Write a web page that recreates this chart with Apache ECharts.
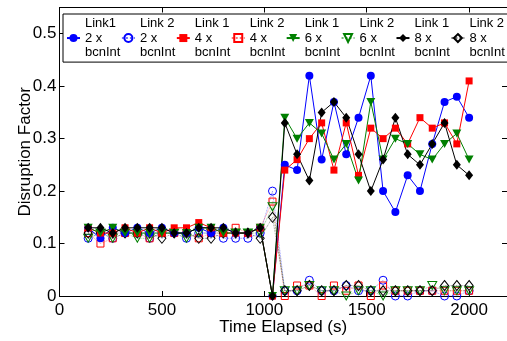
<!DOCTYPE html>
<html>
<head>
<meta charset="utf-8">
<script src="https://cdn.jsdelivr.net/npm/echarts@6/dist/echarts.min.js"></script>
<style>
html,body{margin:0;padding:0;background:#fff;}
#c{width:507px;height:341px;}
</style>
</head>
<body>
<div id="c"></div>
<script>
// ---- data ----
var times = [140, 200, 260, 320, 380, 440, 500, 560, 620, 680, 740, 800, 860, 920, 980, 1040,
             1100, 1160, 1220, 1280, 1340, 1400, 1460, 1520, 1580, 1640, 1700, 1760, 1820, 1880, 1940, 2000];

var link1_2x = [0.13, 0.11, 0.13, 0.12, 0.13, 0.12, 0.13, 0.12, 0.12, 0.13, 0.12, 0.13, 0.12, 0.12, 0.13, 0.00,
                0.25, 0.24, 0.42, 0.26, 0.37, 0.27, 0.34, 0.42, 0.20, 0.16, 0.23, 0.20, 0.29, 0.37, 0.38, 0.34];
var link2_2x = [0.11, 0.12, 0.11, 0.12, 0.12, 0.11, 0.12, 0.12, 0.11, 0.12, 0.12, 0.11, 0.11, 0.11, 0.12, 0.20,
                0.01, 0.01, 0.03, 0.01, 0.01, 0.02, 0.01, 0.01, 0.03, 0.00, 0.00, 0.01, 0.01, 0.00, 0.00, 0.01];
var link1_4x = [0.13, 0.12, 0.12, 0.13, 0.12, 0.13, 0.12, 0.13, 0.13, 0.14, 0.13, 0.12, 0.12, 0.12, 0.13, 0.00,
                0.24, 0.26, 0.30, 0.33, 0.24, 0.33, 0.23, 0.32, 0.30, 0.32, 0.29, 0.34, 0.32, 0.33, 0.29, 0.41];
var link2_4x = [0.12, 0.10, 0.11, 0.12, 0.12, 0.11, 0.12, 0.12, 0.12, 0.11, 0.12, 0.12, 0.13, 0.12, 0.13, 0.18,
                0.00, 0.02, 0.02, 0.00, 0.02, 0.01, 0.02, 0.00, 0.02, 0.01, 0.01, 0.01, 0.01, 0.01, 0.01, 0.01];
var link1_6x = [0.13, 0.12, 0.13, 0.12, 0.12, 0.12, 0.12, 0.12, 0.12, 0.13, 0.13, 0.12, 0.12, 0.12, 0.13, 0.00,
                0.34, 0.30, 0.33, 0.31, 0.26, 0.29, 0.22, 0.37, 0.26, 0.30, 0.29, 0.27, 0.26, 0.29, 0.31, 0.26];
var link2_6x = [0.11, 0.12, 0.11, 0.12, 0.11, 0.11, 0.12, 0.12, 0.11, 0.12, 0.12, 0.12, 0.12, 0.12, 0.12, 0.17,
                0.01, 0.01, 0.02, 0.01, 0.01, 0.00, 0.01, 0.01, 0.00, 0.01, 0.01, 0.01, 0.02, 0.01, 0.01, 0.01];
var link1_8x = [0.13, 0.13, 0.12, 0.13, 0.13, 0.13, 0.13, 0.12, 0.12, 0.13, 0.13, 0.13, 0.12, 0.12, 0.13, 0.00,
                0.33, 0.27, 0.22, 0.35, 0.37, 0.34, 0.27, 0.20, 0.26, 0.34, 0.27, 0.25, 0.29, 0.33, 0.25, 0.23];
var link2_8x = [0.12, 0.12, 0.12, 0.12, 0.12, 0.12, 0.11, 0.12, 0.12, 0.11, 0.11, 0.12, 0.12, 0.12, 0.11, 0.15,
                0.01, 0.01, 0.02, 0.01, 0.01, 0.02, 0.02, 0.01, 0.01, 0.01, 0.01, 0.01, 0.01, 0.02, 0.02, 0.02];

var legendNames = ['Link1\n2 x\nbcnInt', 'Link 2\n2 x\nbcnInt', 'Link 1\n4 x\nbcnInt', 'Link 2\n4 x\nbcnInt',
                   'Link 1\n6 x\nbcnInt', 'Link 2\n6 x\nbcnInt', 'Link 1\n8 x\nbcnInt', 'Link 2\n8 x\nbcnInt'];
var xTicks = [0, 500, 1000, 1500, 2000];
var yTicks = [0, 0.1, 0.2, 0.3, 0.4, 0.5];

// ---- build ----
function pts(vals){ return times.map(function(t,i){ return [t, vals[i]]; }); }
var FONT = 'Liberation Sans, Arial, Helvetica, sans-serif';
var TRI = 'path://M0,0L20,0L10,17Z';

function solid(name, vals, color, symbol, size){
  return {
    name: name, type: 'line', data: pts(vals), z: 3,
    symbol: symbol, symbolSize: size,
    lineStyle: {color: color, width: 1},
    itemStyle: {color: color},
    emphasis: {disabled: true}
  };
}
function open(name, vals, color, symbol, size){
  return {
    name: name, type: 'line', data: pts(vals), z: 2,
    symbol: symbol, symbolSize: size,
    lineStyle: {color: color, width: 0.8, type: 'dotted', opacity: 0.55},
    itemStyle: {color: 'rgba(255,255,255,0)', borderColor: color, borderWidth: 1},
    emphasis: {disabled: true}
  };
}

var series = [
  solid(legendNames[0], link1_2x, '#0000ff', 'circle', 8),
  open(legendNames[1], link2_2x, '#0000ff', 'circle', 8),
  solid(legendNames[2], link1_4x, '#ff0000', 'rect', 7),
  open(legendNames[3], link2_4x, '#ff0000', 'rect', 7),
  solid(legendNames[4], link1_6x, '#008000', TRI, [9, 8]),
  open(legendNames[5], link2_6x, '#008000', TRI, [9, 8]),
  solid(legendNames[6], link1_8x, '#000000', 'diamond', [8, 10]),
  open(legendNames[7], link2_8x, '#000000', 'diamond', [8, 10])
];

function plain(v){ return String(Math.round(v * 1000) / 1000); }

var axisCommonX = {
  type: 'value', min: xTicks[0], max: 2185, interval: xTicks[1] - xTicks[0],
  splitLine: {show: false},
  axisLine: {show: true, onZero: false, lineStyle: {color: '#000', width: 1}},
  axisTick: {show: true, inside: true, length: 5, lineStyle: {color: '#000'}}
};
var axisCommonY = {
  type: 'value', min: yTicks[0], max: 0.55, interval: yTicks[1] - yTicks[0],
  splitLine: {show: false},
  axisLine: {show: true, onZero: false, lineStyle: {color: '#000', width: 1}},
  axisTick: {show: true, inside: true, length: 5, lineStyle: {color: '#000'}}
};

var option = {
  animation: false,
  backgroundColor: '#fff',
  grid: {left: 59.5, right: 0, top: 7.5, bottom: 39, containLabel: false},
  legend: {
    data: legendNames,
    left: 63, top: 14, width: 480,
    orient: 'horizontal',
    padding: [2, 3, 2, 3],
    itemGap: 0.5,
    itemWidth: 13, itemHeight: 10,
    borderColor: '#000', borderWidth: 1, backgroundColor: '#fff',
    textStyle: {fontFamily: FONT, fontSize: 13, lineHeight: 14.7, color: '#000', align: 'left'},
    selectedMode: false
  },
  xAxis: [
    Object.assign({}, axisCommonX, {
      position: 'bottom',
      name: 'Time Elapsed (s)', nameLocation: 'middle', nameGap: 23, nameMoveOverlap: false,
      nameTextStyle: {fontFamily: FONT, fontSize: 17, color: '#000'},
      axisLabel: {fontFamily: FONT, fontSize: 17, color: '#000', margin: 6, showMaxLabel: false, formatter: plain}
    }),
    Object.assign({}, axisCommonX, {position: 'top', axisLabel: {show: false}})
  ],
  yAxis: [
    Object.assign({}, axisCommonY, {
      position: 'left',
      name: 'Disruption Factor', nameLocation: 'middle', nameGap: 26, nameMoveOverlap: false,
      nameTextStyle: {fontFamily: FONT, fontSize: 17, color: '#000'},
      axisLabel: {fontFamily: FONT, fontSize: 17, color: '#000', margin: 3, showMaxLabel: false, formatter: plain}
    }),
    Object.assign({}, axisCommonY, {position: 'right', axisLabel: {show: false}})
  ],
  series: series
};

var chart = echarts.init(document.getElementById('c'), null, {renderer: 'canvas'});
chart.setOption(option);
</script>
</body>
</html>
